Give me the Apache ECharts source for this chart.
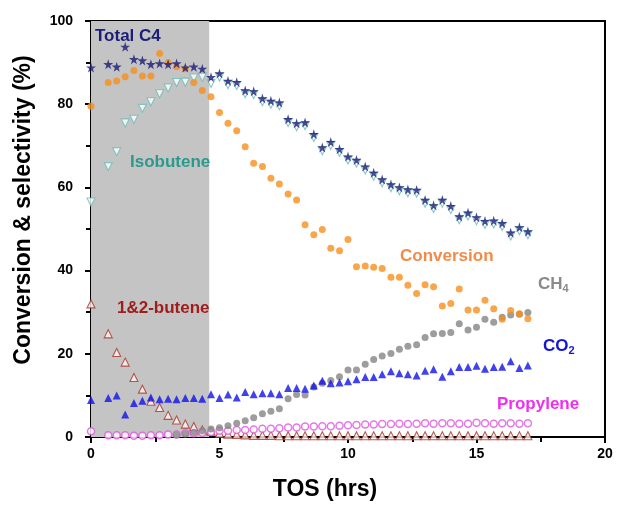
<!DOCTYPE html>
<html>
<head>
<meta charset="utf-8">
<script src="https://cdn.jsdelivr.net/npm/echarts@6/dist/echarts.min.js"></script>
<style>
  html, body { margin: 0; padding: 0; background: #fff; }
  #chart { width: 617px; height: 505px; }
</style>
</head>
<body>
<div id="chart"></div>
<script>
// time on stream (hrs), one entry per sample
const tos = [0, 0.33, 0.67, 1, 1.33, 1.67, 2, 2.33, 2.67, 3, 3.33, 3.67, 4, 4.33, 4.67,
  5, 5.33, 5.67, 6, 6.33, 6.67, 7, 7.33, 7.67, 8, 8.33, 8.67, 9, 9.33, 9.67,
  10, 10.33, 10.67, 11, 11.33, 11.67, 12, 12.33, 12.67, 13, 13.33, 13.67, 14, 14.33, 14.67,
  15, 15.33, 15.67, 16, 16.33, 16.67, 17];

const totalC4 = [88.8, null, 89.6, 89.0, 93.8, 90.8, 90.5, 89.6, 89.8, 89.6, 89.8, 88.8, 89.0, 88.5, 86.5,
  87.4, 85.6, 85.3, 83.3, 83.1, 81.4, 80.8, 80.4, 76.4, 75.4, 75.6, 72.8, 69.6, 70.9, 69.2,
  67.4, 66.6, 65.0, 63.5, 61.9, 60.7, 60.0, 59.5, 59.4, 57.0, 55.7, 57.0, 55.5, 53.0, 53.9,
  52.8, 51.9, 52.0, 51.4, 49.1, 50.4, 49.4];

const conversion = [79.5, null, 85.2, 85.6, 86.6, 88.1, 86.8, 86.8, 92.2, 90.0, 89.0, 88.5, 85.2, 83.3, 81.8,
  78.0, 75.4, 73.6, 69.8, 65.8, 65.0, 62.2, 60.8, 58.4, 57.0, 51.0, 48.6, 49.9, 45.4, 44.8,
  47.5, 40.9, 41.1, 40.8, 40.5, 38.4, 38.4, 36.5, 34.5, 36.6, 36.1, 31.5, 32.1, 35.6, 30.5,
  30.5, 32.9, 30.8, 28.3, 30.4, 29.6, 28.4];

const isobutene = [56.5, null, 65.0, 68.6, 75.5, 76.4, 79.0, 80.6, 82.5, 83.9, 85.2, 85.3, 86.3, 86.5, 85.0,
  86.5, 84.7, 84.5, 82.5, 82.3, 80.6, 80.0, 79.6, 75.6, 74.6, 74.8, 72.0, 68.8, 70.1, 68.4,
  66.6, 65.8, 64.2, 62.7, 61.1, 59.9, 59.2, 58.7, 58.6, 56.2, 54.9, 56.2, 54.7, 52.2, 53.1,
  52.0, 51.1, 51.2, 50.6, 48.3, 49.6, 48.6];

const butene = [32.0, null, 24.8, 20.3, 18.0, 14.3, 11.5, 8.6, 7.1, 5.2, 4.1, 3.1, 2.5, 1.7, 1.4,
  0.9, 0.7, 0.6, 0.5, 0.4, 0.4, 0.4, 0.3, 0.3, 0.3, 0.3, 0.3, 0.3, 0.3, 0.3,
  0.3, 0.3, 0.3, 0.3, 0.3, 0.3, 0.3, 0.3, 0.3, 0.3, 0.3, 0.3, 0.3, 0.3, 0.3,
  0.3, 0.3, 0.3, 0.3, 0.3, 0.3, 0.3];

const co2 = [8.9, null, 9.4, 10.0, 5.4, 8.2, 8.7, 9.5, 9.1, 9.2, 9.1, 9.4, 9.4, 9.2, 10.3,
  9.4, 10.2, 9.5, 10.8, 10.3, 10.5, 10.5, 10.3, 11.8, 11.8, 11.6, 12.4, 13.5, 12.9, 13.1,
  13.4, 13.9, 14.4, 14.4, 15.1, 15.8, 15.3, 15.1, 14.8, 15.9, 16.3, 14.5, 15.8, 16.8, 16.8,
  17.1, 16.4, 16.8, 16.9, 18.2, 16.6, 17.2];

const ch4 = [null, null, null, null, null, null, null, null, null, null, 0.5, 0.8, 1.1, 1.5, 1.9,
  2.2, 2.7, 3.3, 3.9, 4.6, 5.6, 6.2, 6.8, 9.2, 10.2, 10.1, 12.0, 12.9, 13.6, 14.5,
  16.1, 16.1, 17.5, 18.6, 19.5, 20.1, 21.1, 21.8, 22.2, 23.9, 24.8, 24.9, 25.1, 27.2, 25.7,
  26.4, 28.3, 27.6, 28.8, 29.3, 29.5, 29.9];

const propylene = [1.4, null, 0.4, 0.4, 0.4, 0.3, 0.3, 0.4, 0.4, 0.6, 0.6, 0.9, 0.9, 1.0, 1.2,
  1.5, 1.5, 1.7, 1.7, 1.8, 2.0, 2.0, 2.1, 2.3, 2.3, 2.5, 2.5, 2.6, 2.6, 2.7,
  2.8, 2.9, 3.0, 3.0, 3.1, 3.1, 3.2, 3.1, 3.2, 3.3, 3.2, 3.3, 3.3, 3.2, 3.2,
  3.4, 3.3, 3.2, 3.3, 3.3, 3.2, 3.3];

// grey band = first stage of the run
const shadeStart = 0;
const shadeEnd = 4.6;

const xTicks = { min: 0, max: 20, interval: 5 };
const yTicks = { min: 0, max: 100, interval: 20 };

const FONT = '"Liberation Sans", Arial, sans-serif';
const STAR = 'path://M50,0 L61,35 L98,35 L68,57 L79,91 L50,70 L21,91 L32,57 L2,35 L39,35 Z';

function pairs(values) {
  const out = [];
  values.forEach((v, i) => { if (v !== null) out.push([tos[i], v]); });
  return out;
}

const chart = echarts.init(document.getElementById('chart'));

const baseAxis = {
  axisLine: { show: true, onZero: false, lineStyle: { color: '#000', width: 2 } },
  splitLine: { show: false },
};

// plain text label placed in pixels (axis titles and series names)
function label(text, x, y, fill, size, extra) {
  return Object.assign({
    type: 'text', x: x, y: y, z: 100,
    style: { text: text, fill: fill, font: 'bold ' + size + 'px ' + FONT, verticalAlign: 'middle' },
  }, extra || {});
}

function subLabel(text, x, y, fill) {
  const l = label(text, x, y, fill, 17);
  l.style.rich = { s: { fontSize: 11, fontWeight: 'bold', fontFamily: FONT, fill: fill, padding: [10, 0, 0, 0] } };
  return l;
}

const option = {
  animation: false,
  grid: { left: 91, right: 12, top: 21, bottom: 68 },
  xAxis: [{
    ...baseAxis,
    type: 'value',
    min: xTicks.min, max: xTicks.max, interval: xTicks.interval,
    axisTick: { show: true, length: 6, lineStyle: { color: '#000', width: 2 } },
    minorTick: { show: true, splitNumber: 2, length: 5, lineStyle: { color: '#000', width: 2 } },
    axisLabel: { margin: 10, fontFamily: FONT, fontWeight: 'bold', fontSize: 14, color: '#000' },
  }, {
    ...baseAxis,
    type: 'value', position: 'top',
    min: xTicks.min, max: xTicks.max,
    axisTick: { show: false }, axisLabel: { show: false },
  }],
  yAxis: [{
    ...baseAxis,
    type: 'value',
    min: yTicks.min, max: yTicks.max, interval: yTicks.interval,
    axisTick: { show: true, length: 6, lineStyle: { color: '#000', width: 2 } },
    minorTick: { show: true, splitNumber: 2, length: 5, lineStyle: { color: '#000', width: 2 } },
    axisLabel: { margin: 18, fontFamily: FONT, fontWeight: 'bold', fontSize: 14, color: '#000' },
  }, {
    ...baseAxis,
    type: 'value', position: 'right',
    min: yTicks.min, max: yTicks.max,
    axisTick: { show: false }, axisLabel: { show: false },
  }],
  series: [
    {
      name: '1&2-butene', type: 'scatter', symbol: 'triangle', symbolSize: 8,
      data: pairs(butene),
      itemStyle: { color: '#fff4f0', borderColor: '#a5342c', borderWidth: 1.1 },
      markArea: {
        silent: true,
        itemStyle: { color: '#c4c4c4' },
        data: [[{ xAxis: shadeStart }, { xAxis: shadeEnd }]],
      },
      z: 2,
    },
    {
      name: 'Propylene', type: 'scatter', symbol: 'circle', symbolSize: 7,
      data: pairs(propylene),
      itemStyle: { color: '#fff', borderColor: '#e055e0', borderWidth: 1.5 },
      z: 3,
    },
    {
      name: 'CH4', type: 'scatter', symbol: 'circle', symbolSize: 7,
      data: pairs(ch4),
      itemStyle: { color: '#858585' },
      z: 4,
    },
    {
      name: 'CO2', type: 'scatter', symbol: 'triangle', symbolSize: 8,
      data: pairs(co2),
      itemStyle: { color: '#1212e8' },
      z: 5,
    },
    {
      name: 'Isobutene', type: 'scatter', symbol: 'triangle', symbolRotate: 180, symbolSize: 8,
      data: pairs(isobutene),
      itemStyle: { color: '#fff', borderColor: '#6cbcb6', borderWidth: 1.1 },
      z: 6,
    },
    {
      name: 'Conversion', type: 'scatter', symbol: 'circle', symbolSize: 7,
      data: pairs(conversion),
      itemStyle: { color: '#f7901e' },
      z: 7,
    },
    {
      name: 'Total C4', type: 'scatter', symbol: STAR, symbolSize: 10,
      data: pairs(totalC4),
      itemStyle: { color: '#1c1c78' },
      z: 8,
    },
  ],
  graphic: [
    // axis titles (sit a little off-centre in the original)
    label('TOS (hrs)', 325, 490, '#000', 23, {}),
    label('Conversion & selectivity (%)', 24, 210, '#000', 23, { rotation: Math.PI / 2 }),
    // series names
    label('Total C4', 95, 36, '#1c1c7a', 17),
    label('Isobutene', 130, 162, '#2a9a8e', 17),
    label('1&2-butene', 117, 308, '#a31c1c', 17),
    label('Conversion', 400, 256, '#f28a48', 17),
    subLabel('CH{s|4}', 538, 284, '#8a8a8a'),
    subLabel('CO{s|2}', 543, 346, '#1515d6'),
    label('Propylene', 497, 404, '#ee30ee', 17),
  ],
};
// centre the two axis titles on their anchor points
option.graphic[0].style.align = 'center';
option.graphic[1].style.align = 'center';

chart.setOption(option);
</script>
</body>
</html>
